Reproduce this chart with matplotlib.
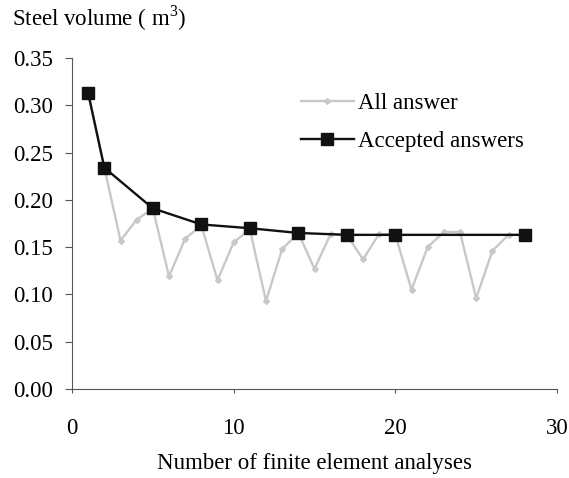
import matplotlib
matplotlib.use("Agg")
import matplotlib.pyplot as plt

plt.rcParams['font.family'] = ['Liberation Serif', 'DejaVu Serif']

# 全部答案
all_x = list(range(1, 29))
all_y = [0.313, 0.234, 0.157, 0.179, 0.191, 0.119, 0.159, 0.173, 0.115, 0.155,
         0.169, 0.093, 0.148, 0.165, 0.127, 0.164, 0.163, 0.137, 0.164, 0.163,
         0.105, 0.150, 0.166, 0.166, 0.096, 0.146, 0.163, 0.163]

# 被接受的答案
acc_x = [1, 2, 5, 8, 11, 14, 17, 20, 28]
acc_y = [0.313, 0.234, 0.191, 0.174, 0.170, 0.165, 0.163, 0.163, 0.163]

x_ticks = [0, 10, 20, 30]
y_ticks = [0.00, 0.05, 0.10, 0.15, 0.20, 0.25, 0.30, 0.35]

W, H = 569, 478
fig = plt.figure(figsize=(W / 100, H / 100), dpi=100)
ax = fig.add_axes([72 / W, 1 - 389 / H, (557 - 72) / W, (389 - 58) / H])

ax.plot(all_x, all_y, color="#c8c8c8", lw=1.7, marker="D", ms=3, label="All answer")
ax.plot(acc_x, acc_y, color="#111111", lw=1.7, marker="s", ms=8, label="Accepted answers")

ax.set_xlim(0, 30)
ax.set_ylim(0, 0.35)
ax.set_xticks(x_ticks)
ax.set_yticks(y_ticks)
ax.set_yticklabels([f"{v:.2f}" for v in y_ticks])
ax.tick_params(labelsize=16.5, direction="out", color="#555555")
ax.tick_params(axis="y", length=5, pad=9)
ax.tick_params(axis="x", length=3, pad=18)
for s in ["top", "right"]:
    ax.spines[s].set_visible(False)
for s in ["left", "bottom"]:
    ax.spines[s].set_color("#555555")

leg = ax.legend(loc="upper left", bbox_to_anchor=(229 / 485, 0.895), frameon=False,
                fontsize=16.5, handlelength=2.3, handletextpad=0.2, labelspacing=0.75,
                borderaxespad=0, borderpad=0)

fig.text(12 / W, 1 - 18 / H, "Steel volume ( m$^{\\mathregular{3}}$)", fontsize=16.5,
         va="center", ha="left")
fig.text((72 + 557) / 2 / W, 1 - 464 / H, "Number of finite element analyses",
         fontsize=16.5, va="center", ha="center")

plt.savefig("out.png", dpi=100)
